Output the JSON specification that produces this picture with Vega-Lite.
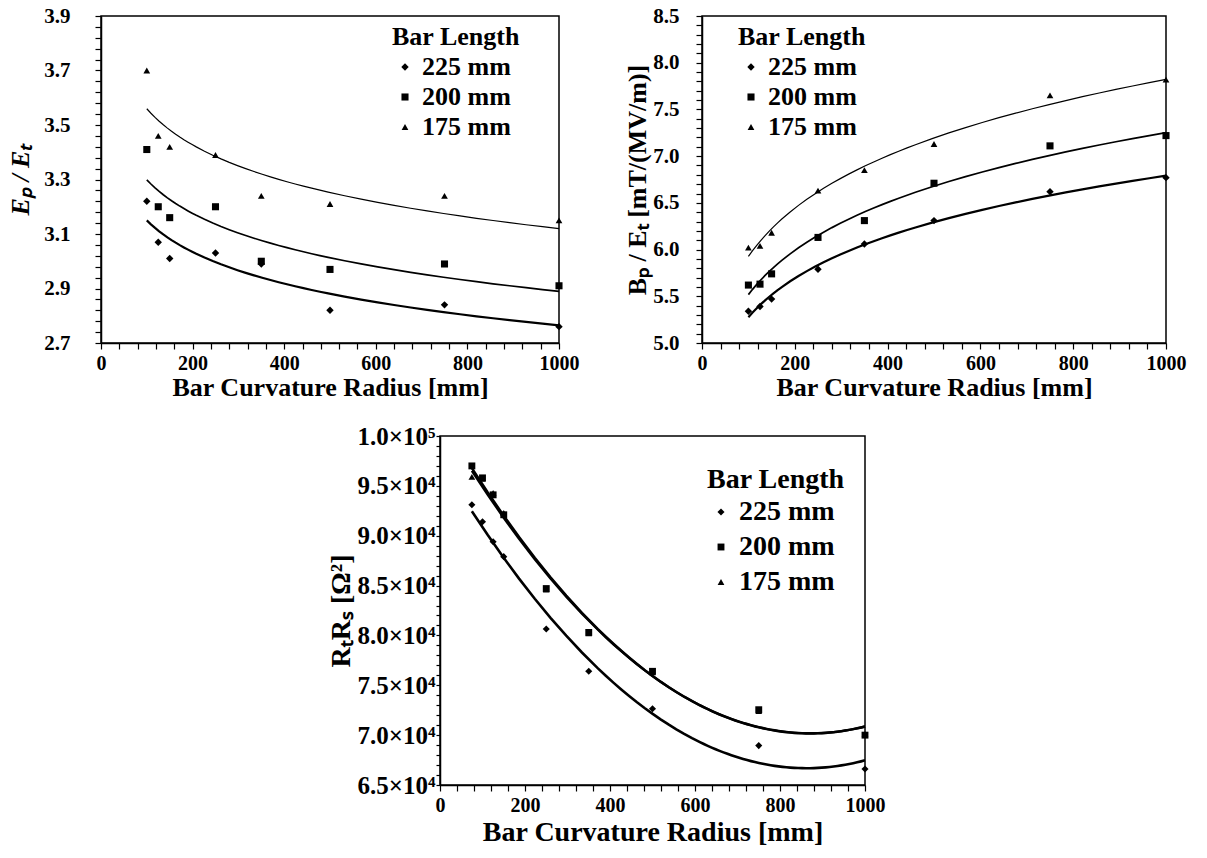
{
  "$schema": "https://vega.github.io/schema/vega-lite/v6.json",
  "background": "white",
  "padding": {"left": 7, "top": 4, "right": 5, "bottom": 5},
  "config": {
    "font": "Liberation Serif",
    "view": {"stroke": "black", "strokeWidth": 1.5},
    "axis": {
      "grid": false, "domainColor": "black", "domainWidth": 1.5, "tickColor": "black", "tickWidth": 1.2, "tickSize": 6,
      "labelColor": "black", "titleColor": "black", "labelFont": "Liberation Serif", "titleFont": "Liberation Serif",
      "labelFontSize": 20, "titleFontSize": 26, "labelFontWeight": "bold", "titleFontWeight": "bold",
      "labelFlush": false, "labelOverlap": false, "labelPadding": 4
    },
    "legend": {
      "titleFont": "Liberation Serif", "labelFont": "Liberation Serif", "titleFontSize": 26, "labelFontSize": 26,
      "titleFontWeight": "bold", "labelFontWeight": "bold", "titleColor": "black", "labelColor": "black",
      "titleLimit": 400, "labelLimit": 400, "rowPadding": 4, "padding": 0, "titlePadding": 4,
      "symbolFillColor": "black", "symbolStrokeColor": "black"
    }
  },
  "datasets": {
    "ep": [
      {"len": "225 mm", "r": 100, "v": 3.22}, {"len": "225 mm", "r": 125, "v": 3.07}, {"len": "225 mm", "r": 150, "v": 3.01},
      {"len": "225 mm", "r": 250, "v": 3.03}, {"len": "225 mm", "r": 350, "v": 2.99}, {"len": "225 mm", "r": 500, "v": 2.82},
      {"len": "225 mm", "r": 750, "v": 2.84}, {"len": "225 mm", "r": 1000, "v": 2.76},
      {"len": "200 mm", "r": 100, "v": 3.41}, {"len": "200 mm", "r": 125, "v": 3.20}, {"len": "200 mm", "r": 150, "v": 3.16},
      {"len": "200 mm", "r": 250, "v": 3.20}, {"len": "200 mm", "r": 350, "v": 3.00}, {"len": "200 mm", "r": 500, "v": 2.97},
      {"len": "200 mm", "r": 750, "v": 2.99}, {"len": "200 mm", "r": 1000, "v": 2.91},
      {"len": "175 mm", "r": 100, "v": 3.70}, {"len": "175 mm", "r": 125, "v": 3.46}, {"len": "175 mm", "r": 150, "v": 3.42},
      {"len": "175 mm", "r": 250, "v": 3.39}, {"len": "175 mm", "r": 350, "v": 3.24}, {"len": "175 mm", "r": 500, "v": 3.21},
      {"len": "175 mm", "r": 750, "v": 3.24}, {"len": "175 mm", "r": 1000, "v": 3.15}
    ],
    "bp": [
      {"len": "225 mm", "r": 100, "v": 5.34}, {"len": "225 mm", "r": 125, "v": 5.39}, {"len": "225 mm", "r": 150, "v": 5.47},
      {"len": "225 mm", "r": 250, "v": 5.79}, {"len": "225 mm", "r": 350, "v": 6.06}, {"len": "225 mm", "r": 500, "v": 6.31},
      {"len": "225 mm", "r": 750, "v": 6.62}, {"len": "225 mm", "r": 1000, "v": 6.77},
      {"len": "200 mm", "r": 100, "v": 5.62}, {"len": "200 mm", "r": 125, "v": 5.63}, {"len": "200 mm", "r": 150, "v": 5.74},
      {"len": "200 mm", "r": 250, "v": 6.13}, {"len": "200 mm", "r": 350, "v": 6.31}, {"len": "200 mm", "r": 500, "v": 6.71},
      {"len": "200 mm", "r": 750, "v": 7.11}, {"len": "200 mm", "r": 1000, "v": 7.22},
      {"len": "175 mm", "r": 100, "v": 6.02}, {"len": "175 mm", "r": 125, "v": 6.04}, {"len": "175 mm", "r": 150, "v": 6.18},
      {"len": "175 mm", "r": 250, "v": 6.63}, {"len": "175 mm", "r": 350, "v": 6.85}, {"len": "175 mm", "r": 500, "v": 7.13},
      {"len": "175 mm", "r": 750, "v": 7.65}, {"len": "175 mm", "r": 1000, "v": 7.82}
    ],
    "rr": [
      {"len": "225 mm", "r": 75, "v": 93100}, {"len": "225 mm", "r": 100, "v": 91400}, {"len": "225 mm", "r": 125, "v": 89400},
      {"len": "225 mm", "r": 150, "v": 87900}, {"len": "225 mm", "r": 250, "v": 80650}, {"len": "225 mm", "r": 350, "v": 76400},
      {"len": "225 mm", "r": 500, "v": 72650}, {"len": "225 mm", "r": 750, "v": 68950}, {"len": "225 mm", "r": 1000, "v": 66600},
      {"len": "200 mm", "r": 75, "v": 97000}, {"len": "200 mm", "r": 100, "v": 95800}, {"len": "200 mm", "r": 125, "v": 94100},
      {"len": "200 mm", "r": 150, "v": 92100}, {"len": "200 mm", "r": 250, "v": 84700}, {"len": "200 mm", "r": 350, "v": 80300},
      {"len": "200 mm", "r": 500, "v": 76400}, {"len": "200 mm", "r": 750, "v": 72550}, {"len": "200 mm", "r": 1000, "v": 70000},
      {"len": "175 mm", "r": 75, "v": 95900}, {"len": "175 mm", "r": 100, "v": 95700}, {"len": "175 mm", "r": 125, "v": 94300},
      {"len": "175 mm", "r": 150, "v": 92300}, {"len": "175 mm", "r": 250, "v": 84600}, {"len": "175 mm", "r": 350, "v": 80200},
      {"len": "175 mm", "r": 500, "v": 76300}, {"len": "175 mm", "r": 750, "v": 72400}, {"len": "175 mm", "r": 1000, "v": 70100}
    ]
  },
  "spacing": 22,
  "resolve": {"scale": {"shape": "independent", "size": "independent", "strokeWidth": "independent"}},
  "vconcat": [
    {
      "spacing": 44,
      "resolve": {"scale": {"shape": "independent", "size": "independent", "strokeWidth": "independent"}},
      "hconcat": [
        {
          "width": 458, "height": 327,
          "data": {"name": "ep"},
          "encoding": {
            "x": {"field": "r", "type": "quantitative", "scale": {"domain": [0, 1000], "nice": false}, "title": "Bar Curvature Radius [mm]",
              "axis": {"values": [0,40,80,120,160,200,240,280,320,360,400,440,480,520,560,600,640,680,720,760,800,840,880,920,960,1000],
                "labelExpr": "datum.value % 200 === 0 ? format(datum.value, 'd') : ''", "titlePadding": 1}},
            "y": {"field": "v", "type": "quantitative", "scale": {"domain": [2.7, 3.9], "nice": false, "zero": false}, "title": "Eₚ / Eₜ",
              "axis": {"values": [2.7,2.74,2.78,2.82,2.86,2.9,2.94,2.98,3.02,3.06,3.1,3.14,3.18,3.22,3.26,3.3,3.34,3.38,3.42,3.46,3.5,3.54,3.58,3.62,3.66,3.7,3.74,3.78,3.82,3.86,3.9],
                "labelExpr": "abs((datum.value - 2.7) / 0.2 - round((datum.value - 2.7) / 0.2)) < 0.01 ? format(datum.value, '.1f') : ''",
                "titleFontStyle": "italic", "titlePadding": 10, "labelPadding": 25, "labelFontSize": 21}}
          },
          "layer": [
            {
              "transform": [{"regression": "v", "on": "r", "groupby": ["len"], "method": "log", "extent": [100, 1000]}],
              "mark": {"type": "line", "color": "black"},
              "encoding": {
                "detail": {"field": "len", "type": "nominal"},
                "strokeWidth": {"field": "len", "type": "nominal", "scale": {"range": [1.2, 2.2, 3]}, "legend": null}
              }
            },
            {
              "mark": {"type": "point", "filled": true, "color": "black", "opacity": 1},
              "encoding": {
                "shape": {"field": "len", "type": "nominal", "scale": {"domain": ["225 mm", "200 mm", "175 mm"], "range": ["diamond", "square", "triangle-up"]},
                  "legend": {"title": "Bar Length", "orient": "none", "legendX": 291, "legendY": 8}},
                "size": {"field": "len", "type": "nominal", "scale": {"domain": ["225 mm", "200 mm", "175 mm"], "range": [55, 45, 16]},
                  "legend": {"title": "Bar Length", "orient": "none", "legendX": 291, "legendY": 8}}
              }
            }
          ]
        },
        {
          "width": 464, "height": 327,
          "data": {"name": "bp"},
          "encoding": {
            "x": {"field": "r", "type": "quantitative", "scale": {"domain": [0, 1000], "nice": false}, "title": "Bar Curvature Radius [mm]",
              "axis": {"values": [0,40,80,120,160,200,240,280,320,360,400,440,480,520,560,600,640,680,720,760,800,840,880,920,960,1000],
                "labelExpr": "datum.value % 200 === 0 ? format(datum.value, 'd') : ''", "titlePadding": 1}},
            "y": {"field": "v", "type": "quantitative", "scale": {"domain": [5.0, 8.5], "nice": false, "zero": false}, "title": "Bₚ / Eₜ   [mT/(MV/m)]",
              "axis": {"values": [5.0,5.1,5.2,5.3,5.4,5.5,5.6,5.7,5.8,5.9,6.0,6.1,6.2,6.3,6.4,6.5,6.6,6.7,6.8,6.9,7.0,7.1,7.2,7.3,7.4,7.5,7.6,7.7,7.8,7.9,8.0,8.1,8.2,8.3,8.4,8.5],
                "labelExpr": "abs(datum.value * 2 - round(datum.value * 2)) < 0.01 ? format(datum.value, '.1f') : ''",
                "titlePadding": 2, "labelPadding": 17, "labelFontSize": 21}}
          },
          "layer": [
            {
              "transform": [{"regression": "v", "on": "r", "groupby": ["len"], "method": "pow", "extent": [100, 1000]}],
              "mark": {"type": "line", "color": "black"},
              "encoding": {
                "detail": {"field": "len", "type": "nominal"},
                "strokeWidth": {"field": "len", "type": "nominal", "scale": {"range": [1.2, 2.2, 3]}, "legend": null}
              }
            },
            {
              "mark": {"type": "point", "filled": true, "color": "black", "opacity": 1},
              "encoding": {
                "shape": {"field": "len", "type": "nominal", "scale": {"domain": ["225 mm", "200 mm", "175 mm"], "range": ["diamond", "square", "triangle-up"]},
                  "legend": {"title": "Bar Length", "orient": "none", "legendX": 36, "legendY": 8}},
                "size": {"field": "len", "type": "nominal", "scale": {"domain": ["225 mm", "200 mm", "175 mm"], "range": [55, 45, 30]},
                  "legend": {"title": "Bar Length", "orient": "none", "legendX": 36, "legendY": 8}}
              }
            }
          ]
        }
      ]
    },
    {
      "spacing": 0,
      "resolve": {"scale": {"shape": "independent", "size": "independent", "strokeWidth": "independent"}},
      "hconcat": [
        {
          "width": 225, "height": 1,
          "data": {"values": []},
          "mark": "point",
          "view": {"stroke": null}
        },
        {
          "width": 425, "height": 349,
          "data": {"name": "rr"},
          "encoding": {
            "x": {"field": "r", "type": "quantitative", "scale": {"domain": [0, 1000], "nice": false}, "title": "Bar Curvature Radius [mm]",
              "axis": {"values": [0,40,80,120,160,200,240,280,320,360,400,440,480,520,560,600,640,680,720,760,800,840,880,920,960,1000],
                "labelExpr": "datum.value % 200 === 0 ? format(datum.value, 'd') : ''", "titlePadding": 3, "titleFontSize": 28}},
            "y": {"field": "v", "type": "quantitative", "scale": {"domain": [65000, 100000], "nice": false, "zero": false}, "title": "RₜRₛ   [Ω²]",
              "axis": {"values": [65000,66000,67000,68000,69000,70000,71000,72000,73000,74000,75000,76000,77000,78000,79000,80000,81000,82000,83000,84000,85000,86000,87000,88000,89000,90000,91000,92000,93000,94000,95000,96000,97000,98000,99000,100000],
                "labelExpr": "datum.value % 5000 === 0 ? (datum.value === 100000 ? '1.0×10⁵' : format(datum.value / 10000, '.1f') + '×10⁴') : ''",
                "titlePadding": 2, "labelPadding": 1, "tickSize": 4, "labelFontSize": 25, "titleFontSize": 28}}
          },
          "layer": [
            {
              "transform": [{"regression": "v", "on": "r", "groupby": ["len"], "method": "poly", "order": 2, "extent": [75, 1000]}],
              "mark": {"type": "line", "color": "black"},
              "encoding": {
                "detail": {"field": "len", "type": "nominal"},
                "strokeWidth": {"field": "len", "type": "nominal", "scale": {"range": [2.4, 2.6, 3]}, "legend": null}
              }
            },
            {
              "mark": {"type": "point", "filled": true, "color": "black", "opacity": 1},
              "encoding": {
                "shape": {"field": "len", "type": "nominal", "scale": {"domain": ["225 mm", "200 mm", "175 mm"], "range": ["diamond", "square", "triangle-up"]},
                  "legend": {"title": "Bar Length", "orient": "none", "legendX": 267, "legendY": 30, "titleFontSize": 28, "labelFontSize": 28, "rowPadding": 7}},
                "size": {"field": "len", "type": "nominal", "scale": {"domain": ["225 mm", "200 mm", "175 mm"], "range": [50, 45, 30]},
                  "legend": {"title": "Bar Length", "orient": "none", "legendX": 267, "legendY": 30, "titleFontSize": 28, "labelFontSize": 28, "rowPadding": 7}}
              }
            }
          ]
        }
      ]
    }
  ]
}
